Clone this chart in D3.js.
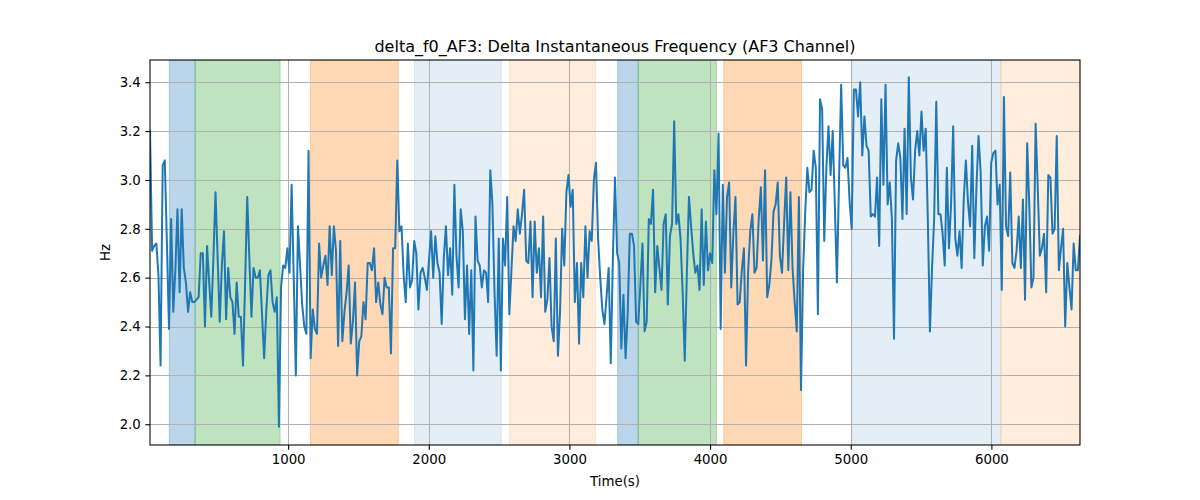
<!DOCTYPE html>
<html><head><meta charset="utf-8">
<script src="https://cdn.jsdelivr.net/npm/d3@7"></script>
<style>body{margin:0;background:#fff} text{font-family:"DejaVu Sans",sans-serif;fill:#000}</style>
</head><body><svg id="c" width="1200" height="500"></svg>
<script>
// ---- data ----
const chartTitle = "delta_f0_AF3: Delta Instantaneous Frequency (AF3 Channel)";
const xLabel = "Time(s)";
const yLabel = "Hz";
const tStart = 18, tEnd = 6630;           // first / last sample time (s)
const hz = [
3.20,2.71,2.73,2.74,2.61,2.24,3.06,3.08,2.74,2.39,2.84,2.46,2.63,2.88,2.54,2.88,2.64,2.58,2.46,2.54,2.50,
2.50,2.51,2.52,2.70,2.70,2.40,2.73,2.58,2.44,2.68,2.95,2.68,2.42,2.65,2.79,2.43,2.64,2.52,2.50,2.37,
2.58,2.44,2.44,2.24,2.58,2.93,2.68,2.44,2.64,2.60,2.60,2.63,2.45,2.27,2.46,2.61,2.63,2.50,2.46,2.52,
1.99,2.56,2.65,2.64,2.72,2.62,2.98,2.60,2.20,2.81,2.65,2.49,2.40,
2.37,3.12,2.27,2.47,2.39,2.37,2.74,2.60,2.65,2.69,2.57,2.81,2.61,2.81,2.71,2.32,2.75,2.34,2.46,2.54,
2.65,2.33,2.42,2.58,2.20,2.34,2.36,2.50,2.43,2.66,2.66,2.63,2.72,2.50,2.58,2.49,2.45,2.60,2.56,2.56,
2.29,2.72,2.72,3.08,2.79,2.81,2.61,2.50,2.74,2.56,2.59,2.75,2.70,2.47,2.62,2.64,2.60,2.55,2.67,2.79,
2.60,2.77,2.66,2.62,2.41,2.68,2.81,2.61,2.72,2.53,2.98,2.69,2.56,2.88,
2.79,2.43,2.65,2.37,2.63,2.22,2.85,2.67,2.65,2.56,2.63,2.62,2.50,3.04,2.90,2.54,2.28,2.76,2.22,2.76,
2.65,2.93,2.45,2.63,2.81,2.75,2.88,2.78,2.86,2.96,2.67,2.66,2.83,2.52,2.83,2.62,2.72,2.52,2.85,2.46,
2.51,2.68,2.40,2.34,2.76,2.28,2.46,2.80,2.65,2.95,3.02,2.89,2.96,2.50,2.66,2.33,2.66,2.52,2.81,2.60,
2.79,2.75,3.00,3.07,2.76,2.60,2.47,2.41,2.52,2.64,2.25,2.68,3.01,2.70,2.66,2.31,
2.53,2.27,2.45,2.78,2.78,2.73,2.42,2.41,2.57,2.74,2.38,2.42,2.84,2.82,2.96,2.54,2.73,2.64,2.55,2.82,
2.86,2.49,2.77,2.82,3.24,2.82,2.86,2.76,2.54,2.26,2.62,2.93,2.81,2.70,2.62,2.65,2.55,2.88,2.57,2.83,
2.63,2.70,2.66,3.04,2.86,3.19,2.39,2.98,2.62,2.93,2.99,2.56,2.78,2.93,2.49,2.50,2.63,2.72,2.24,2.63,
2.79,2.86,2.62,2.64,2.84,2.97,2.67,3.04,2.52,2.57,2.67,2.87,2.90,2.99,
2.69,2.62,2.82,3.01,2.63,2.95,2.64,2.50,2.38,2.93,2.14,2.63,2.87,3.05,2.95,2.96,3.12,3.05,2.45,3.33,
3.29,2.75,3.05,3.22,3.02,3.20,2.90,2.58,3.00,3.39,3.06,3.05,3.09,2.91,2.80,3.37,3.37,3.26,3.40,3.10,
3.26,3.14,3.12,2.85,2.86,2.85,3.01,2.73,3.33,2.98,3.39,2.90,2.99,2.84,2.35,3.08,3.15,3.09,2.84,3.21,
2.86,3.42,3.01,2.92,3.12,3.20,3.10,3.28,3.12,3.21,2.84,2.38,2.64,
2.84,3.32,2.86,2.86,2.78,2.65,3.05,2.72,2.90,3.22,2.76,2.69,2.79,2.64,2.92,3.08,2.91,2.81,3.14,2.68,
2.97,3.18,3.03,2.65,2.81,2.85,2.71,3.07,3.11,3.12,2.90,2.98,2.55,3.34,2.81,2.77,3.03,2.66,2.64,2.71,
2.85,2.64,2.92,2.51,3.15,2.90,2.56,2.60,3.23,2.97,2.69,2.72,2.78,2.54,3.02,3.01,2.78,2.80,3.18,2.63,
2.72,2.80,2.40,2.66,2.56,2.47,2.74,2.63,2.63,2.77
];
const spanStart = [155, 339, 1159, 1899, 2574, 3343, 3489, 4097, 5006, 6068];
const spanEnd   = [339, 943, 1783, 2515, 3186, 3489, 4045, 4650, 6068, 6630];
const spanKind  = ["A", "B", "C", "A2", "C2", "A", "B", "C", "A2", "C2"];
const xTicks = [1000, 2000, 3000, 4000, 5000, 6000];
const yTicks = [2.0, 2.2, 2.4, 2.6, 2.8, 3.0, 3.2, 3.4];

// ---- styles ----
const kindStyle = {
  A:  {c: "#1f77b4", a: 0.3},
  B:  {c: "#2ca02c", a: 0.3},
  C:  {c: "#ff7f0e", a: 0.3},
  A2: {c: "#1f77b4", a: 0.12},
  C2: {c: "#ff7f0e", a: 0.15}
};
const M = {l: 150, r: 1080, t: 60, b: 445};

const svg = d3.select("#c");
const x = d3.scaleLinear().domain([tStart, tEnd]).range([M.l, M.r]);
const y = d3.scaleLinear().domain([1.915, 3.491]).range([M.b, M.t]);
const step = (tEnd - tStart) / (hz.length - 1);
const pts = hz.map((v, i) => [tStart + i * step, v]);

svg.append("clipPath").attr("id", "clp").append("rect")
  .attr("x", M.l).attr("y", M.t).attr("width", M.r - M.l).attr("height", M.b - M.t);

const plot = svg.append("g").attr("clip-path", "url(#clp)");
// spans
plot.selectAll("rect.span").data(spanStart.map((s, i) => ({s, e: spanEnd[i], k: spanKind[i]})))
  .enter().append("rect")
  .attr("x", d => x(d.s)).attr("width", d => x(d.e) - x(d.s))
  .attr("y", M.t).attr("height", M.b - M.t)
  .attr("fill", d => kindStyle[d.k].c).attr("fill-opacity", d => kindStyle[d.k].a)
  .attr("stroke", d => kindStyle[d.k].c).attr("stroke-opacity", d => kindStyle[d.k].a)
  .attr("stroke-width", 1);

// grid
const grid = plot.append("g").attr("stroke", "#b0b0b0").attr("stroke-width", 1.07);
grid.selectAll("line.gx").data(xTicks).enter().append("line")
  .attr("x1", d => Math.round(x(d)) + 0.5).attr("x2", d => Math.round(x(d)) + 0.5)
  .attr("y1", M.t).attr("y2", M.b);
grid.selectAll("line.gy").data(yTicks).enter().append("line")
  .attr("y1", d => Math.round(y(d)) + 0.5).attr("y2", d => Math.round(y(d)) + 0.5)
  .attr("x1", M.l).attr("x2", M.r);

// line
plot.append("path").datum(pts)
  .attr("fill", "none").attr("stroke", "#1f77b4").attr("stroke-width", 2)
  .attr("stroke-linejoin", "round").attr("stroke-linecap", "square")
  .attr("d", d3.line().x(d => x(d[0])).y(d => y(d[1])));

// axes
const xAxis = d3.axisBottom(x).tickValues(xTicks).tickFormat(d3.format("d")).tickSizeOuter(0).tickSize(4.67).tickPadding(4.5);
const yAxis = d3.axisLeft(y).tickValues(yTicks).tickFormat(d3.format(".1f")).tickSizeOuter(0).tickSize(4.67).tickPadding(4.5);
const gx = svg.append("g").attr("transform", `translate(0,${M.b})`).call(xAxis);
const gy = svg.append("g").attr("transform", `translate(${M.l},0)`).call(yAxis);
[gx, gy].forEach(g => {
  g.select(".domain").remove();
  g.selectAll(".tick line").attr("stroke", "#000").attr("stroke-width", 1.07);
  g.selectAll(".tick text").attr("font-size", "13.33px").attr("font-family", "DejaVu Sans").attr("fill", "#000");
});

// spines
svg.append("rect").attr("x", M.l).attr("y", M.t).attr("width", M.r - M.l).attr("height", M.b - M.t)
  .attr("fill", "none").attr("stroke", "#000").attr("stroke-width", 1.07);

// labels
svg.append("text").attr("x", (M.l + M.r) / 2).attr("y", 52).attr("text-anchor", "middle")
  .attr("font-size", "16px").text(chartTitle);
svg.append("text").attr("x", (M.l + M.r) / 2).attr("y", 486).attr("text-anchor", "middle")
  .attr("font-size", "13.33px").text(xLabel);
svg.append("text").attr("transform", `translate(110,${(M.t + M.b) / 2}) rotate(-90)`).attr("text-anchor", "middle")
  .attr("font-size", "13.33px").text(yLabel);
</script>
</body></html>
